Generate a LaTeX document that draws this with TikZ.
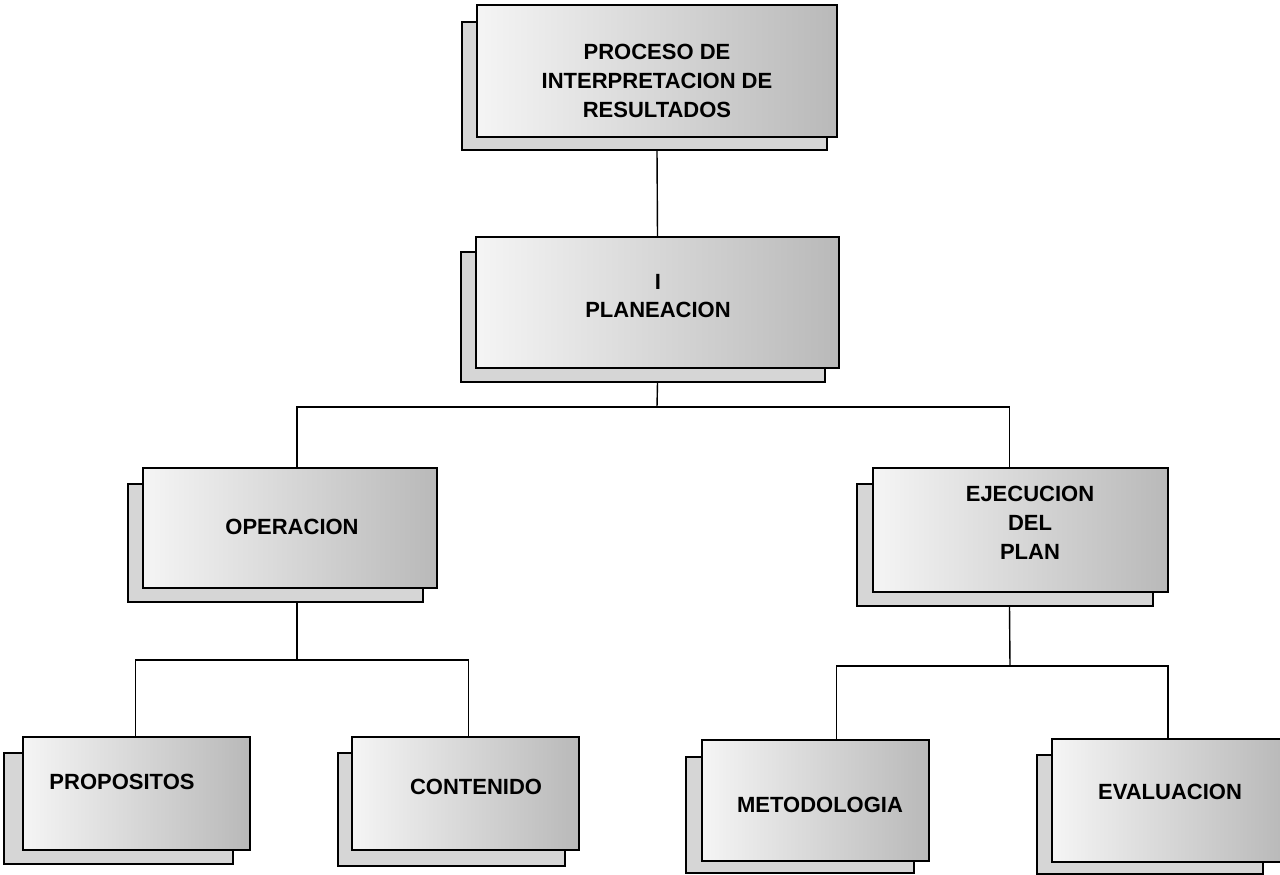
\documentclass[tikz,border=0pt]{standalone}
\usepackage{fontspec}
\setmainfont{Liberation Sans}
\usetikzlibrary{fit}
\tikzset{
  mainbox/.style={draw=black, line width=1.4pt, left color=gray!8, right color=gray!55, inner sep=0pt},
  shadebox/.style={draw=black, line width=1.2pt, fill=gray!32, inner sep=0pt},
  lbl/.style={font=\fontsize{22}{29}\selectfont\bfseries, align=center, inner sep=0pt},
  conn/.style={line width=1.4pt, draw=black},
}
\begin{document}
\begin{tikzpicture}[x=1pt,y=-1pt]
\path[use as bounding box, fill=white] (0,0) rectangle (1280,875);

\coordinate (j1) at (657,407);
\coordinate (j2) at (297,660);
\coordinate (j3) at (1010,666);

% top box
\node[shadebox, fit={(462,22)(827,150)}] (topS) {};
\node[mainbox, fit={(477,5)(837,137)}] (top) {};
\node[lbl] (topT) at (657,81) {PROCESO DE\\INTERPRETACION DE\\RESULTADOS};

% planeacion
\node[shadebox, fit={(461,252)(825,382)}] (planS) {};
\node[mainbox, fit={(476,237)(839,368)}] (plan) {};
\node[lbl, font=\fontsize{22}{28}\selectfont\bfseries] (planT) at (658,296) {I\\PLANEACION};

% operacion
\node[shadebox, fit={(128,484)(423,602)}] (operS) {};
\node[mainbox, fit={(143,468)(437,588)}] (oper) {};
\node[lbl] (operT) at (292,527) {OPERACION};

% ejecucion
\node[shadebox, fit={(857,484)(1153,606)}] (ejecS) {};
\node[mainbox, fit={(873,468)(1168,592)}] (ejec) {};
\node[lbl] (ejecT) at (1030,523) {EJECUCION\\DEL\\PLAN};

% propositos
\node[shadebox, fit={(4,753)(233,864)}] (propS) {};
\node[mainbox, fit={(23,737)(250,850)}] (prop) {};
\node[lbl] (propT) at (122,782) {PROPOSITOS};

% contenido
\node[shadebox, fit={(338,753)(565,866)}] (contS) {};
\node[mainbox, fit={(352,737)(579,850)}] (cont) {};
\node[lbl] (contT) at (476,787) {CONTENIDO};

% metodologia
\node[shadebox, fit={(686,757)(914,873)}] (metoS) {};
\node[mainbox, fit={(702,740)(929,861)}] (meto) {};
\node[lbl] (metoT) at (820,805) {METODOLOGIA};

% evaluacion
\node[shadebox, fit={(1037,755)(1263,874)}] (evalS) {};
\node[mainbox, fit={(1052,739)(1284,862)}] (eval) {};
\node[lbl] (evalT) at (1170,792) {EVALUACION};

% connectors
\draw[conn] (top.south |- topS.south) -- (plan.north);
\draw[conn] (plan.south |- planS.south) -- (j1);
\draw[conn] (j1) -| ([xshift=7pt]oper.north);
\draw[conn] (j1) -| ([xshift=-11pt]ejec.north);
\draw[conn] ([xshift=7pt]oper.south |- operS.south) -- (j2);
\draw[conn] (j2) -| ([xshift=-1pt]prop.north);
\draw[conn] (j2) -| ([xshift=3pt]cont.north);
\draw[conn] ([xshift=-11pt]ejec.south |- ejecS.south) -- (j3);
\draw[conn] (j3) -| ([xshift=21pt]meto.north);
\draw[conn] (j3) -| ([xshift=0pt]eval.north);
\end{tikzpicture}
\end{document}
